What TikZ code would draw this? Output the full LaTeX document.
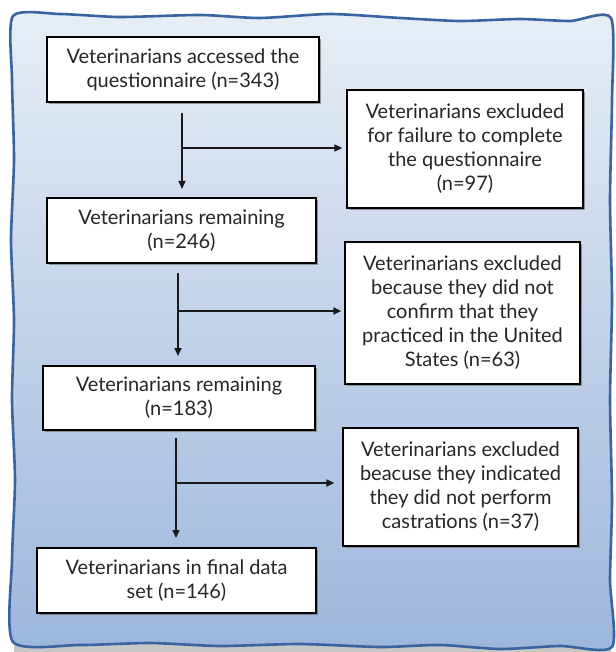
\documentclass[tikz,border=0pt]{standalone}
\usepackage{fontspec}
\setmainfont{Lato}
\usetikzlibrary{arrows.meta,shadows,calc}
\definecolor{framecol}{HTML}{3A64A0}
\definecolor{bgtop}{HTML}{E8EEF6}
\definecolor{bgbot}{HTML}{9CB6DC}
\definecolor{txtcol}{HTML}{262626}
\begin{document}
\begin{tikzpicture}[x=1pt,y=-1pt,
  box/.style={draw=black,line width=1.3pt,fill=white,rectangle,inner sep=0pt,
    align=center,text=txtcol,font=\fontsize{20}{24}\selectfont,
    drop shadow={shadow xshift=2pt,shadow yshift=-2pt,fill=black!55,opacity=0.7}},
  arr/.style={line width=1.5pt,draw=black!90,-{Triangle[length=8pt,width=7pt]}}]
\useasboundingbox (0,0) rectangle (615,652);
\fill[white] (0,0) rectangle (615,652);
\fill[black!22] (14,644) rectangle (611,652);
\shade[top color=bgtop,bottom color=bgbot]
  plot[smooth cycle,tension=0.4] coordinates {
  (13,16) (60,14) (120,17) (200,15) (260,18) (330,14) (400,18) (460,21) (520,19) (570,21) (611,18)
  (612,100) (610,200) (612,300) (610,400) (612,500) (610,580) (612,647)
  (560,646) (500,649) (440,645) (380,647) (300,644) (220,646) (150,643) (80,645) (13,642)
  (12,560) (15,480) (12,400) (14,320) (11,240) (14,160) (12,80)};
\draw[framecol,line width=2.6pt,line join=round]
  plot[smooth cycle,tension=0.4] coordinates {
  (13,16) (60,14) (120,17) (200,15) (260,18) (330,14) (400,18) (460,21) (520,19) (570,21) (611,18)
  (612,100) (610,200) (612,300) (610,400) (612,500) (610,580) (612,647)
  (560,646) (500,649) (440,645) (380,647) (300,644) (220,646) (150,643) (80,645) (13,642)
  (12,560) (15,480) (12,400) (14,320) (11,240) (14,160) (12,80)};

\node[box,minimum width=272pt,minimum height=65pt] (b1) at (183,69.5)
  {Veterinarians accessed the\\questionnaire (n=343)};
\node[box,minimum width=236pt,minimum height=118pt] (b2) at (465,149)
  {Veterinarians excluded\\for failure to complete\\the questionnaire\\(n=97)};
\node[box,minimum width=269pt,minimum height=65pt] (b3) at (181.5,230.5)
  {Veterinarians remaining\\(n=246)};
\node[box,minimum width=235pt,minimum height=142pt] (b4) at (462.5,313)
  {Veterinarians excluded\\because they did not\\confirm that they\\practiced in the United\\States (n=63)};
\node[box,minimum width=272pt,minimum height=64pt] (b5) at (179,398)
  {Veterinarians remaining\\(n=183)};
\node[box,minimum width=235pt,minimum height=118pt] (b6) at (460.5,487)
  {Veterinarians excluded\\beacuse they indicated\\they did not perform\\castrations (n=37)};
\node[box,minimum width=279pt,minimum height=65pt] (b7) at (176.5,580.5)
  {Veterinarians in final data\\set (n=146)};

\coordinate (s1) at (182,113); \coordinate (e1) at (182,189); \coordinate (m1) at (182,148);
\coordinate (s2) at (178,273); \coordinate (e2) at (178,356); \coordinate (m2) at (178,311);
\coordinate (s3) at (176,438); \coordinate (e3) at (176,538); \coordinate (m3) at (176,483);

\draw[arr] (s1) -- (e1);
\draw[arr] (m1) -- ([xshift=-4pt]b2.west |- m1);
\draw[arr] (s2) -- (e2);
\draw[arr] (m2) -- ([xshift=-3pt]b4.west |- m2);
\draw[arr] (s3) -- (e3);
\draw[arr] (m3) -- ([xshift=-8pt]b6.west |- m3);
\end{tikzpicture}
\end{document}
